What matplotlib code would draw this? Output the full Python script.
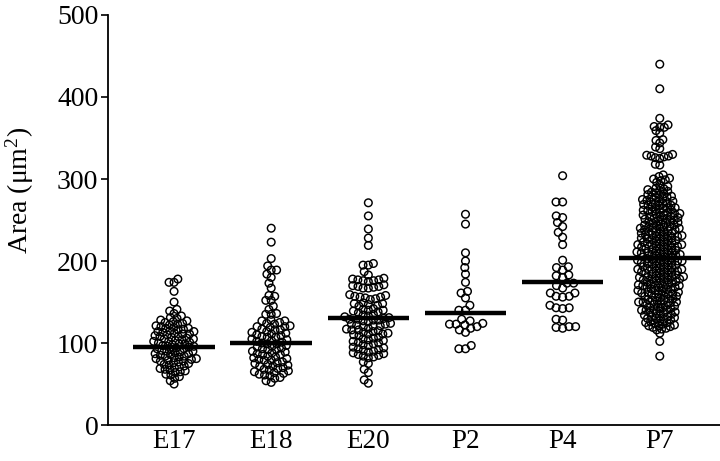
import numpy as np
import matplotlib
matplotlib.use('Agg')
import matplotlib.pyplot as plt

plt.rcParams['font.family'] = ['Liberation Serif', 'DejaVu Serif']
plt.rcParams['mathtext.fontset'] = 'custom'
plt.rcParams['mathtext.rm'] = 'Liberation Serif'
plt.rcParams['mathtext.it'] = 'Liberation Serif:italic'

# groups and values (area, um^2)
groups = ['E17', 'E18', 'E20', 'P2', 'P4', 'P7']
means = [95, 100, 130, 137, 175, 204]

e17 = [178, 174, 174, 163, 150, 141, 139, 136, 133,
       131, 130, 128, 127, 126, 125, 124, 123, 122, 121, 120, 119, 118, 118, 117, 116, 115, 114, 114, 113,
       112, 111, 111, 110, 109, 108, 108, 107, 106, 105, 105, 104, 103, 102, 102, 101, 100, 99, 99, 98,
       97, 96, 96, 95, 94, 93, 93, 92, 91, 90, 90, 89, 88, 87, 87, 86, 85, 84, 84, 83,
       82, 81, 81, 80, 79, 78, 78, 77, 76, 75, 74, 73, 72, 71, 70, 69, 68, 67, 66, 65,
       64, 62, 61, 59, 57, 54, 50]
e18 = [240, 223, 203, 194, 189, 189, 184, 180, 173, 167, 158, 157, 152, 152, 145, 141, 136, 135, 135,
       128, 127, 127, 125, 124, 123, 121, 120, 120, 119, 117, 116, 116, 114, 113, 112, 111, 110, 109,
       108, 107, 107, 105, 104, 103, 102, 101, 100, 99, 99, 97, 96, 95, 94, 93, 92, 92, 90, 89,
       88, 87, 86, 86, 84, 83, 82, 81, 80, 79, 79, 77, 76, 75, 74, 73, 72, 72, 70, 69,
       68, 67, 66, 65, 64, 63, 62, 61, 60, 58, 57, 54, 52]
e20 = [271, 255, 239, 228, 219, 197, 195, 195, 187, 183,
       179, 178, 177, 177, 176, 176, 175,
       171, 170, 169, 169, 168, 167, 167,
       159, 158, 157, 156, 156, 155, 154, 153,
       149, 148, 148, 147, 146, 145,
       142, 141, 140, 140, 139, 138, 137,
       135, 134, 133, 132, 131,
       130, 129, 129, 128, 128, 127, 126,
       124, 123, 123, 122, 121, 121, 120,
       118, 117, 116, 116, 115, 114,
       113, 112, 111, 111, 110, 109,
       107, 106, 105, 104, 103,
       102, 101, 100, 99, 98, 97,
       95, 94, 93, 92, 91, 90, 89,
       88, 87, 86, 85, 84, 83, 82,
       77, 75, 68, 64, 55, 51]
p2 = [257, 245, 210, 200, 192, 184, 174, 163, 161, 155, 146, 140, 140,
      129, 127, 124, 123, 123, 122, 120, 118, 116, 113, 97, 93, 93]
p4 = [304, 272, 272, 255, 253, 247, 242, 235, 229, 220, 201, 193, 192, 189, 183, 182, 180,
      173, 173, 170, 167, 161, 161, 157, 157, 156, 146, 143, 143, 142, 129, 128, 120, 120, 119, 118]
p7 = [440, 410, 374, 366, 364, 363, 363, 359, 356, 348, 347, 344, 339, 337, 330, 329, 328, 328,
      327, 326, 325, 318, 317, 305, 303, 301, 300, 299, 298, 296,
      292, 291, 289, 288, 287, 286, 285, 284, 283, 282, 281, 280,
      279, 278, 278, 277, 276, 275, 274, 273, 273, 272, 271, 270, 270,
      269, 268, 268, 267, 266, 265, 265, 264, 263, 262, 262, 261, 260, 260,
      259, 258, 258, 257, 256, 256, 255, 254, 254, 253, 252, 252, 251, 250, 250,
      249, 248, 248, 247, 246, 246, 245, 244, 244, 243, 242, 242, 241, 240, 240, 240,
      239, 238, 238, 237, 236, 236, 235, 234, 234, 233, 232, 232, 231, 231, 230, 230,
      229, 228, 228, 227, 227, 226, 225, 225, 224, 223, 223, 222, 221, 221, 220, 220, 220,
      219, 218, 218, 217, 217, 216, 215, 215, 214, 213, 213, 212, 211, 211, 210, 210, 210,
      209, 208, 208, 207, 207, 206, 205, 205, 204, 203, 203, 202, 201, 201, 200, 200, 200,
      199, 198, 198, 197, 197, 196, 195, 195, 194, 193, 193, 192, 191, 191, 190, 190, 190,
      189, 188, 188, 187, 187, 186, 185, 185, 184, 183, 183, 182, 181, 181, 180, 180, 180,
      179, 178, 178, 177, 177, 176, 175, 175, 174, 173, 173, 172, 171, 171, 170, 170, 170,
      169, 168, 168, 167, 166, 166, 165, 164, 164, 163, 162, 162, 161, 160, 160, 160,
      159, 158, 157, 157, 156, 155, 154, 154, 153, 152, 152, 151, 150, 150, 150,
      149, 148, 147, 147, 146, 145, 144, 143, 143, 142, 141, 140, 140, 140,
      139, 138, 137, 136, 136, 135, 134, 133, 132, 132, 131, 130, 130,
      129, 128, 127, 126, 125, 125, 124, 123, 122, 121, 121,
      120, 119, 118, 117, 116, 112, 102, 84]
data = [e17, e18, e20, p2, p4, p7]
spacing = [5.0, 5.4, 5.3, 6.6, 6.6, 4.5]   # min distance between dot centres, px


def swarm(ypx, d):
    # simple beeswarm: put each dot as close to the centre as it fits
    order = np.argsort(ypx)
    xs = np.zeros(len(ypx))
    px, py = [], []
    for i in order:
        y = ypx[i]
        cands = [0.0]
        for a, b in zip(px, py):
            dy = abs(b - y)
            if dy < d:
                dx = np.sqrt(d * d - dy * dy)
                cands += [a - dx, a + dx]
        cands.sort(key=abs)
        for c in cands:
            if all((c - a) ** 2 + (y - b) ** 2 >= d * d - 1e-6 for a, b in zip(px, py)):
                break
        xs[i] = c
        px.append(c)
        py.append(y)
    return xs


fig = plt.figure(figsize=(7.2, 4.61), dpi=100)
ax = fig.add_axes([0.15, 0.078, 0.85, 0.8895])
ax.set_xlim(0.32, 6.62)
ax.set_ylim(0, 500)

for k, vals in enumerate(data):
    pos = k + 1
    vals = np.array(vals, dtype=float)
    pts = ax.transData.transform(np.column_stack([np.full(len(vals), pos), vals]))
    pts[:, 0] += swarm(pts[:, 1], spacing[k])
    xy = ax.transData.inverted().transform(pts)
    ax.scatter(xy[:, 0], xy[:, 1], s=30, facecolors='none', edgecolors='black',
               linewidths=1.05, zorder=2)
    ax.plot([pos - 0.42, pos + 0.42], [means[k], means[k]], color='black', lw=3.2,
            solid_capstyle='butt', zorder=3)

ax.set_xticks(range(1, 7))
ax.set_xticklabels(groups)
ax.set_yticks([0, 100, 200, 300, 400, 500])
ax.tick_params(axis='x', length=0, labelsize=19.5, pad=3)
ax.tick_params(axis='y', length=5, width=1.2, labelsize=20, pad=2)
ax.set_ylabel('Area (μm$^2$)', fontsize=20)
ax.yaxis.set_label_coords(-0.118, 0.571)

ax.spines['top'].set_visible(False)
ax.spines['right'].set_visible(False)
ax.spines['left'].set_linewidth(1.3)
ax.spines['bottom'].set_linewidth(1.3)

fig.savefig('out.png', dpi=100)
